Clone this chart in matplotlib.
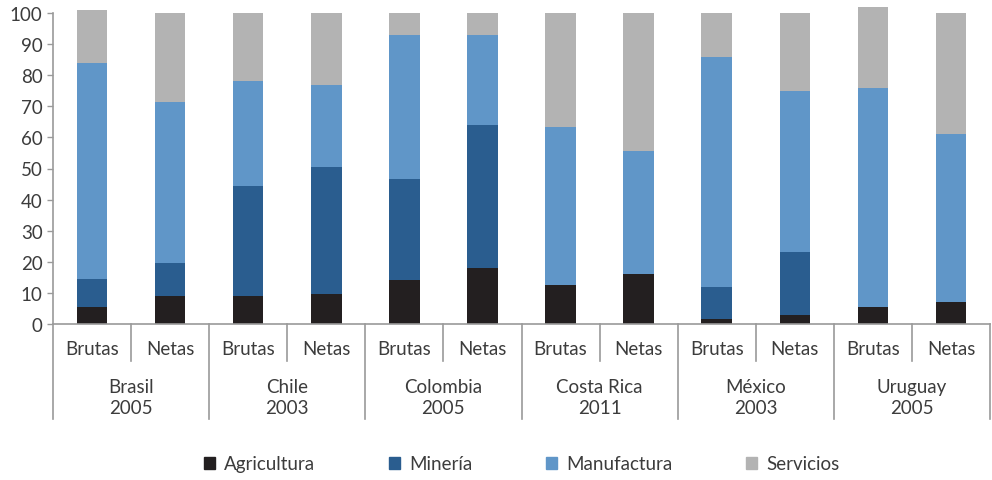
import numpy as np
import matplotlib
matplotlib.use('Agg')
import matplotlib.pyplot as plt
from matplotlib.patches import Patch

plt.rcParams['font.family'] = ['Lato', 'DejaVu Sans']

countries = ['Brasil', 'Chile', 'Colombia', 'Costa Rica', 'México', 'Uruguay']
years = ['2005', '2003', '2005', '2011', '2003', '2005']
kinds = ['Brutas', 'Netas']

# one value per bar: Brasil B, Brasil N, Chile B, Chile N, ...
agricultura = [5.5, 9, 9, 9.5, 14, 18, 12.5, 16, 1.5, 3, 5.5, 7]
mineria = [9, 10.5, 35.5, 41, 32.5, 46, 0, 0, 10.5, 20, 0, 0]
manufactura = [69.5, 52, 33.5, 26.5, 46.5, 29, 51, 39.5, 74, 52, 70.5, 54]
servicios = [17, 28.5, 22, 23, 7, 7, 36.5, 44.5, 14, 25, 26, 39]

series = [('Agricultura', agricultura, '#231f20'),
          ('Minería', mineria, '#2a5d8f'),
          ('Manufactura', manufactura, '#6096c8'),
          ('Servicios', servicios, '#b3b3b3')]

txt = '#3c3c3c'
gray = '#9a9a9a'
fs = 13.5

fig = plt.figure(figsize=(9.92, 4.81), dpi=100)
ax = fig.add_axes([53 / 992, 1 - 325 / 481, 937 / 992, 311 / 481])

x = np.arange(len(agricultura))
bottom = np.zeros(len(x))
for name, vals, col in series:
    ax.bar(x, vals, 0.39, bottom=bottom, color=col, clip_on=False, zorder=2)
    bottom += np.array(vals)

ax.set_xlim(-0.5, len(x) - 0.5)
ax.set_ylim(0, 100)
ax.set_yticks(range(0, 101, 10))
ax.tick_params(axis='y', labelsize=fs, labelcolor=txt, color=gray, length=4, width=1)
ax.set_xticks([])
for s in ['top', 'right']:
    ax.spines[s].set_visible(False)
for s in ['left', 'bottom']:
    ax.spines[s].set_color(gray)
    ax.spines[s].set_linewidth(1.2)

trans = ax.get_xaxis_transform()
# separators below the axis
for i in range(len(x) + 1):
    xs = i - 0.5
    low = -0.305 if i % 2 == 0 else -0.119
    ax.plot([xs, xs], [0, low], color=gray, lw=1.2, transform=trans, clip_on=False)

for i in x:
    ax.text(i, -0.08, kinds[i % 2], transform=trans, ha='center', va='center',
            fontsize=fs, color=txt)
for g in range(len(countries)):
    ax.text(2 * g + 0.5, -0.2, countries[g], transform=trans, ha='center', va='center',
            fontsize=fs, color=txt)
    ax.text(2 * g + 0.5, -0.27, years[g], transform=trans, ha='center', va='center',
            fontsize=fs, color=txt)

handles = [Patch(color=c, label=n) for n, v, c in series]
fig.legend(handles=handles, loc='center', bbox_to_anchor=(0.526, 1 - 465 / 481), ncol=4,
           frameon=False, fontsize=fs, handlelength=0.55, handleheight=0.55,
           handletextpad=0.5, columnspacing=3.95, labelcolor=txt)

fig.savefig('out.png', dpi=100)
